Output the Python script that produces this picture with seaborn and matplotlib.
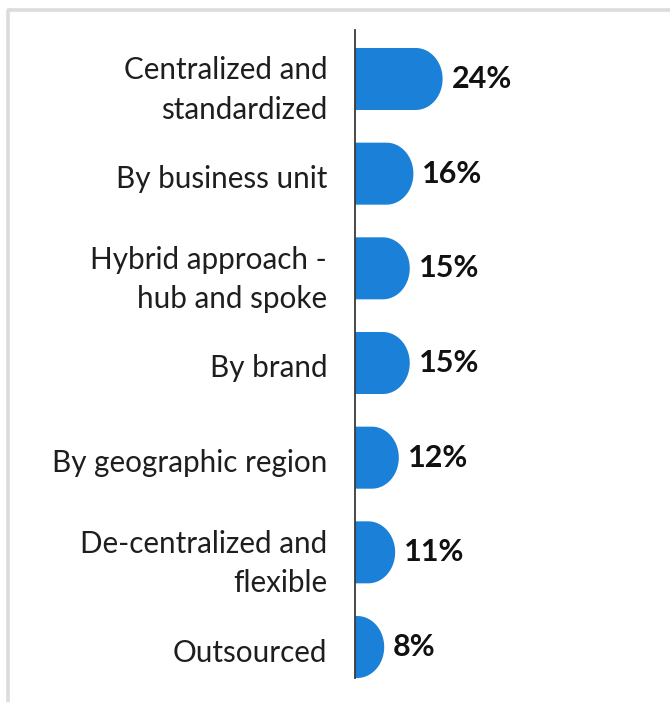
import matplotlib
matplotlib.use("Agg")
import matplotlib.pyplot as plt
import matplotlib.transforms as mtransforms
from matplotlib.path import Path
from matplotlib.patches import PathPatch
from matplotlib.lines import Line2D
import numpy as np
import pandas as pd
import seaborn as sns

categories = [
    "Centralized and\nstandardized",
    "By business unit",
    "Hybrid approach -\nhub and spoke",
    "By brand",
    "By geographic region",
    "De-centralized and\nflexible",
    "Outsourced",
]
values = [24, 16, 15, 15, 12, 11, 8]

BAR_COLOR = "#1A80D8"
FONT = "Lato"

sns.set_theme(style="white")
plt.rcParams["font.family"] = [FONT, "DejaVu Sans"]

W, H = 670, 702
fig = plt.figure(figsize=(W / 100, H / 100), dpi=100)
fig.patch.set_facecolor("white")

ax_left, ax_right = 355, 655
ax_top, ax_bottom = 30, 678
ax = fig.add_axes([ax_left / W, (H - ax_bottom) / H, (ax_right - ax_left) / W, (ax_bottom - ax_top) / H])

df = pd.DataFrame({"category": categories, "value": values})
sns.barplot(data=df, x="value", y="category", orient="h", color=BAR_COLOR,
            width=0.655, saturation=1, ax=ax)

px_per_unit = 3.65
ax.set_xlim(0, (ax_right - ax_left) / px_per_unit)
pitch = 94.7
ax.set_ylim(6 + 31 / pitch, -49 / pitch)

# rounded right ends
rx_px = 27
rx_data = rx_px / px_per_unit
for p in list(ax.patches):
    x0, y0, w, h = p.get_x(), p.get_y(), p.get_width(), p.get_height()
    if w <= 0:
        continue
    rx = min(rx_data, w)
    yc = y0 + h / 2
    xs = x0 + w - rx
    pts = [(x0, yc - h / 2), (xs, yc - h / 2)]
    t2 = np.linspace(-np.pi / 2, np.pi / 2, 60)
    pts += [(xs + rx * np.cos(a), yc + (h / 2) * np.sin(a)) for a in t2]
    pts += [(x0, yc + h / 2), (x0, yc - h / 2)]
    codes = [Path.MOVETO] + [Path.LINETO] * (len(pts) - 2) + [Path.CLOSEPOLY]
    patch = PathPatch(Path(pts, codes), facecolor=BAR_COLOR, edgecolor="none", lw=0, zorder=2)
    p.remove()
    ax.add_patch(patch)

# value labels
offset = mtransforms.offset_copy(ax.transData, fig=fig, x=9, y=0, units="dots")
for i, v in enumerate(values):
    ax.text(v, i, f"{v}%", transform=offset, ha="left", va="center",
            fontsize=22, fontweight="bold", color="#111111", family=[FONT, "DejaVu Sans"])

ax.set_xlabel("")
ax.set_ylabel("")
ax.set_xticks([])
for s in ["top", "right", "bottom"]:
    ax.spines[s].set_visible(False)
ax.spines["left"].set_color("#3a3a3a")
ax.spines["left"].set_linewidth(1.3)
ax.spines["left"].set_zorder(3)
ax.tick_params(axis="y", length=0, pad=20)
for lab in ax.get_yticklabels():
    lab.set_fontsize(21.3)
    lab.set_color("#1e1e1e")
    lab.set_linespacing(1.5)
    lab.set_family([FONT, "DejaVu Sans"])
    lab.set_transform(lab.get_transform() + mtransforms.Affine2D().translate(0, -3))

# light gray frame (top and left edges)
frame_kw = dict(color="#dcdcdc", linewidth=2.6, transform=None, solid_capstyle="butt")
fig.lines.append(Line2D([8, 8], [0, H - 10.3], **frame_kw))
fig.lines.append(Line2D([6.5, W], [H - 10.3, H - 10.3], **frame_kw))

fig.savefig("out.png", dpi=100, facecolor="white")
